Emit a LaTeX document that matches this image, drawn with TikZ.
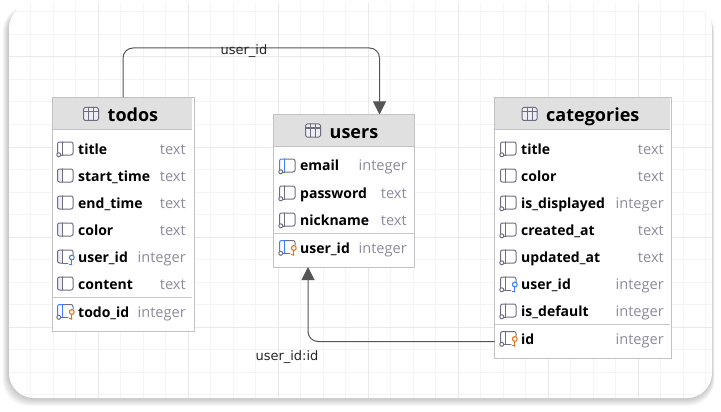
\documentclass[tikz,border=0pt]{standalone}
\usepackage{fontspec}
\setmainfont{Open Sans}
\newfontfamily\edgefont{DejaVu Sans}
\usetikzlibrary{arrows.meta}
\definecolor{gminor}{HTML}{F4F4F4}
\definecolor{gmajor}{HTML}{E9E9E9}
\definecolor{tborder}{HTML}{C2C2C2}
\definecolor{thead}{HTML}{E0E0E0}
\definecolor{tsep}{HTML}{C8C8C8}
\definecolor{ticon}{HTML}{6E6E80}
\definecolor{tpane}{HTML}{ECEEF3}
\definecolor{tkeyb}{HTML}{3B82F6}
\definecolor{tkeyo}{HTML}{E8701A}
\definecolor{ttype}{HTML}{8B8B9B}
\definecolor{tlink}{HTML}{555555}
\tikzset{
  tablebox/.style={draw=tborder,line width=1pt,fill=white,anchor=north west,inner sep=0pt,outer sep=0pt},
  titletext/.style={anchor=base west,inner sep=0pt,font=\fontsize{18}{18}\selectfont\bfseries,text=black},
  fieldname/.style={anchor=base west,inner sep=0pt,font=\fontsize{14}{14}\selectfont\bfseries,text=black},
  fieldtype/.style={anchor=base east,inner sep=0pt,font=\fontsize{14.6}{14.6}\selectfont,text=ttype},
  link/.style={draw=tlink,line width=1pt,rounded corners=10pt},
  linkhead/.style={-{Triangle[length=13pt,width=13pt]}},
  linklabel/.style={inner sep=0pt,font=\edgefont\fontsize{13}{13}\selectfont,text=black!85},
  iconline/.style={line width=1pt,line cap=round,line join=round}
}
% x, y, pane colour, pane fill, nullable ring (0/1), key colour (or none)
\newcommand{\colicon}[6]{%
  \begin{scope}[shift={(#1,#2)}]
    \fill[#4] (0.4,-6.1) rectangle (5.2,6.1);
    \ifx\relax#6\relax
      \draw[iconline,ticon,rounded corners=2pt] (5.2,-6.5) -- (15.5,-6.5) -- (15.5,6.5) -- (5.2,6.5);
    \else
      \draw[iconline,ticon,rounded corners=2pt] (5.2,-6.5) -- (15.5,-6.5) -- (15.5,-2);
      \draw[iconline,ticon] (5.2,6.5) -- (10.5,6.5);
      \draw[iconline,#6,line width=1.1pt] (14.3,1) circle[radius=2.4];
      \draw[iconline,#6,line width=1.1pt] (14.3,3.4) -- (14.3,8.3);
      \draw[iconline,#6,line width=1.1pt] (14.3,7.8) -- (12,7.8);
    \fi
    \draw[iconline,#3] (5.2,-6.5) -- (5.2,6.5);
    \ifnum#5=1
      \draw[iconline,#3,rounded corners=2pt] (5.2,-6.5) -- (0,-6.5) -- (0,4);
      \draw[iconline,ticon] (1.3,6.3) circle[radius=2];
      \draw[iconline,ticon] (3.3,6.5) -- (5.2,6.5);
    \else
      \draw[iconline,#3,rounded corners=2pt] (5.2,-6.5) -- (0,-6.5) -- (0,6.5) -- (5.2,6.5);
    \fi
  \end{scope}}
\newcommand{\tableicon}[2]{%
  \begin{scope}[shift={(#1,#2)}]
    \draw[iconline,ticon,fill=tpane,rounded corners=1.5pt] (0,0) rectangle (15,13);
    \draw[iconline,ticon] (0,4) -- (15,4) (5,0) -- (5,13) (10,0) -- (10,13);
  \end{scope}}
% node id, icon x, name x, type right x, row y, name, type
\newcommand{\fieldrow}[7]{%
  \node[fieldname] (#1n) at (#3,#5+5) {#6};
  \node[fieldtype] (#1t) at (#4,#5+5) {#7};}
\begin{document}
\begin{tikzpicture}[x=1pt,y=-1pt]
\useasboundingbox (0,0) rectangle (721,412);
\fill[white] (0,0) rectangle (721,412);
% card shadow
\foreach \s in {8,7,...,1}{
  \fill[black,opacity=0.026,rounded corners=26pt] (9-\s*0.8,6) rectangle (712+\s*0.3,398+\s);
}
\fill[white,rounded corners=25pt] (9,3) rectangle (712,398);
% grid
\begin{scope}
  \clip[rounded corners=25pt] (9,3) rectangle (712,398);
  \foreach \i in {0,...,31}{
    \draw[gminor,line width=1pt] (30.5+22.5*\i,0) -- (30.5+22.5*\i,412);
  }
  \foreach \i in {0,...,17}{
    \draw[gminor,line width=1pt] (0,12+22.5*\i) -- (721,12+22.5*\i);
  }
  \foreach \i in {0,...,6}{
    \draw[gmajor,line width=1pt] (98+90*\i,0) -- (98+90*\i,412);
  }
  \foreach \i in {0,...,3}{
    \draw[gmajor,line width=1pt] (0,57+90*\i) -- (721,57+90*\i);
  }
\end{scope}
% tables
\node[tablebox,minimum width=142pt,minimum height=233.5pt] (todos) at (52,97.5) {};
\node[tablebox,minimum width=141pt,minimum height=152.5pt] (users) at (273.5,114.5) {};
\node[tablebox,minimum width=177pt,minimum height=260.5pt] (categories) at (494.5,97.5) {};
% headers
\fill[thead] (52.5,98) rectangle (192,129.5);
\draw[tborder,line width=1pt] (52,129.5) -- (192,129.5);
\fill[thead] (274,115) rectangle (413.5,146.5);
\draw[tborder,line width=1pt] (273.5,146.5) -- (413.5,146.5);
\fill[thead] (495,98) rectangle (670,129.5);
\draw[tborder,line width=1pt] (494.5,129.5) -- (670,129.5);
% separators
\draw[tsep,line width=1pt] (52,297) -- (192,297);
\draw[tsep,line width=1pt] (273.5,233) -- (413.5,233);
\draw[tsep,line width=1pt] (494.5,324) -- (670,324);
% titles
\tableicon{83.5}{107.5}
\node[titletext] (todostitle) at (107.5,121.5) {todos};
\tableicon{305.5}{124}
\node[titletext] (userstitle) at (329.5,138.5) {users};
\tableicon{522}{107.5}
\node[titletext] (categoriestitle) at (546,121.5) {categories};
% todos rows
\colicon{57.5}{148.5}{ticon}{white}{1}{}
\fieldrow{ta}{57.5}{78}{186}{149}{title}{text}
\colicon{57.5}{175.5}{ticon}{tpane}{0}{}
\fieldrow{tb}{57.5}{78}{186}{176}{start\_time}{text}
\colicon{57.5}{202.5}{ticon}{tpane}{0}{}
\fieldrow{tc}{57.5}{78}{186}{203}{end\_time}{text}
\colicon{57.5}{229.5}{ticon}{tpane}{0}{}
\fieldrow{td}{57.5}{78}{186}{230}{color}{text}
\colicon{57.5}{256.5}{ticon}{tpane}{0}{tkeyb}
\fieldrow{te}{57.5}{78}{186}{257}{user\_id}{integer}
\colicon{57.5}{283.5}{ticon}{tpane}{0}{}
\fieldrow{tf}{57.5}{78}{186}{284}{content}{text}
\colicon{57.5}{311}{tkeyb}{white}{1}{tkeyo}
\fieldrow{tg}{57.5}{78}{186}{312}{todo\_id}{integer}
% users rows
\colicon{279.5}{165.5}{tkeyb}{white}{1}{}
\fieldrow{ua}{279.5}{300}{407}{166}{email}{integer}
\colicon{279.5}{192.5}{ticon}{white}{1}{}
\fieldrow{ub}{279.5}{300}{407}{193}{password}{text}
\colicon{279.5}{219.5}{ticon}{white}{1}{}
\fieldrow{uc}{279.5}{300}{407}{220}{nickname}{text}
\colicon{279.5}{247}{tkeyb}{white}{1}{tkeyo}
\fieldrow{ud}{279.5}{300}{407}{248}{user\_id}{integer}
% categories rows
\colicon{500.5}{148.5}{ticon}{white}{1}{}
\fieldrow{ca}{500.5}{521}{664}{149}{title}{text}
\colicon{500.5}{175.5}{ticon}{white}{0}{}
\fieldrow{cb}{500.5}{521}{664}{176}{color}{text}
\colicon{500.5}{202.5}{ticon}{white}{1}{}
\fieldrow{cc}{500.5}{521}{664}{203}{is\_displayed}{integer}
\colicon{500.5}{229.5}{ticon}{white}{1}{}
\fieldrow{cd}{500.5}{521}{664}{230}{created\_at}{text}
\colicon{500.5}{256.5}{ticon}{white}{1}{}
\fieldrow{ce}{500.5}{521}{664}{257}{updated\_at}{text}
\colicon{500.5}{283.5}{ticon}{white}{1}{tkeyb}
\fieldrow{cf}{500.5}{521}{664}{284}{user\_id}{integer}
\colicon{500.5}{310.5}{ticon}{white}{1}{}
\fieldrow{cg}{500.5}{521}{664}{311}{is\_default}{integer}
\colicon{500.5}{338}{ticon}{white}{1}{tkeyo}
\fieldrow{ch}{500.5}{521}{664}{339}{id}{integer}
% connectors
\coordinate (usersin) at ([xshift=35.5pt]users.north);
\coordinate (usersout) at ([xshift=-36pt]users.south);
\coordinate (catout) at (categories.west |- 0,341.5);
\draw[link,linkhead] (todos.north) -- (todos.north |- 0,48) -- (usersin |- 0,48) -- (usersin);
\draw[link,linkhead] (catout) -- (usersout |- catout) -- (usersout);
\node[linklabel] (lab1) at (244,51) {user\_id};
\node[linklabel] (lab2) at (287,357) {user\_id:id};
\end{tikzpicture}
\end{document}
